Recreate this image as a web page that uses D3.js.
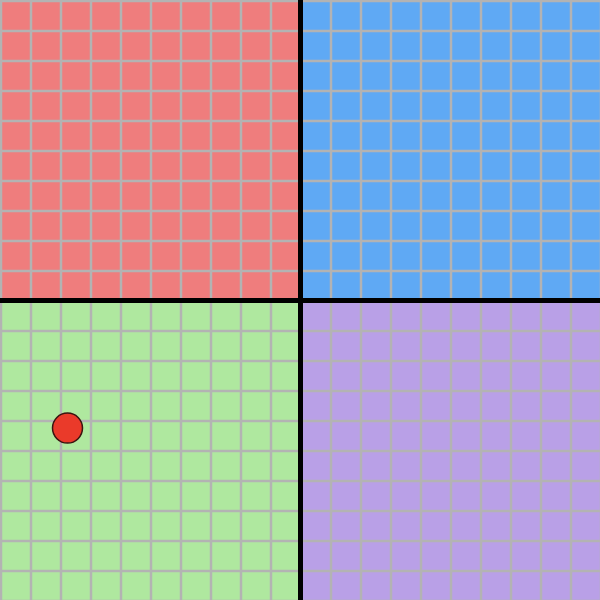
<!DOCTYPE html>
<html><head><meta charset="utf-8">
<script src="https://cdn.jsdelivr.net/npm/d3@7"></script>
<style>html,body{margin:0;padding:0;background:#fff}svg{display:block}</style>
</head><body>
<svg id="c" width="600" height="600"></svg>
<script>
const quadrants = [
  {name: "Authoritarian Left", x0: -10, x1: 0, y0: 0, y1: 10, color: "#ef7d7d"},
  {name: "Authoritarian Right", x0: 0, x1: 10, y0: 0, y1: 10, color: "#5fa9f4"},
  {name: "Libertarian Left", x0: -10, x1: 0, y0: -10, y1: 0, color: "#afe89f"},
  {name: "Libertarian Right", x0: 0, x1: 10, y0: -10, y1: 0, color: "#b9a0e7"}
];
const gridTicks = d3.range(-10, 11, 1);
const pointX = [-7.75];
const pointY = [-4.27];

const svg = d3.select("#c");
const x = d3.scaleLinear().domain([-10, 10]).range([0, 600]);
const y = d3.scaleLinear().domain([-10, 10]).range([600, 0]);

svg.selectAll("rect.q").data(quadrants).join("rect")
  .attr("x", d => x(d.x0)).attr("y", d => y(d.y1))
  .attr("width", d => x(d.x1) - x(d.x0)).attr("height", d => y(d.y0) - y(d.y1))
  .attr("fill", d => d.color);

svg.selectAll("line.gx").data(gridTicks).join("line")
  .attr("x1", d => x(d) + 1).attr("x2", d => x(d) + 1)
  .attr("y1", 0).attr("y2", 600)
  .attr("stroke", "#b3b3b3").attr("stroke-width", 2.5);
svg.selectAll("line.gy").data(gridTicks).join("line")
  .attr("y1", d => y(d) + 1).attr("y2", d => y(d) + 1)
  .attr("x1", 0).attr("x2", 600)
  .attr("stroke", "#b3b3b3").attr("stroke-width", 2.5);

svg.append("line").attr("x1", x(0) + 0.5).attr("x2", x(0) + 0.5).attr("y1", 0).attr("y2", 600)
  .attr("stroke", "#000").attr("stroke-width", 5);
svg.append("line").attr("y1", y(0) + 0.5).attr("y2", y(0) + 0.5).attr("x1", 0).attr("x2", 600)
  .attr("stroke", "#000").attr("stroke-width", 5);

svg.selectAll("circle.p").data(pointX.map((v, i) => [v, pointY[i]])).join("circle")
  .attr("cx", d => x(d[0])).attr("cy", d => y(d[1])).attr("r", 15)
  .attr("fill", "#ea3a2a").attr("stroke", "#3a1410").attr("stroke-width", 1.5);
</script>
</body></html>
